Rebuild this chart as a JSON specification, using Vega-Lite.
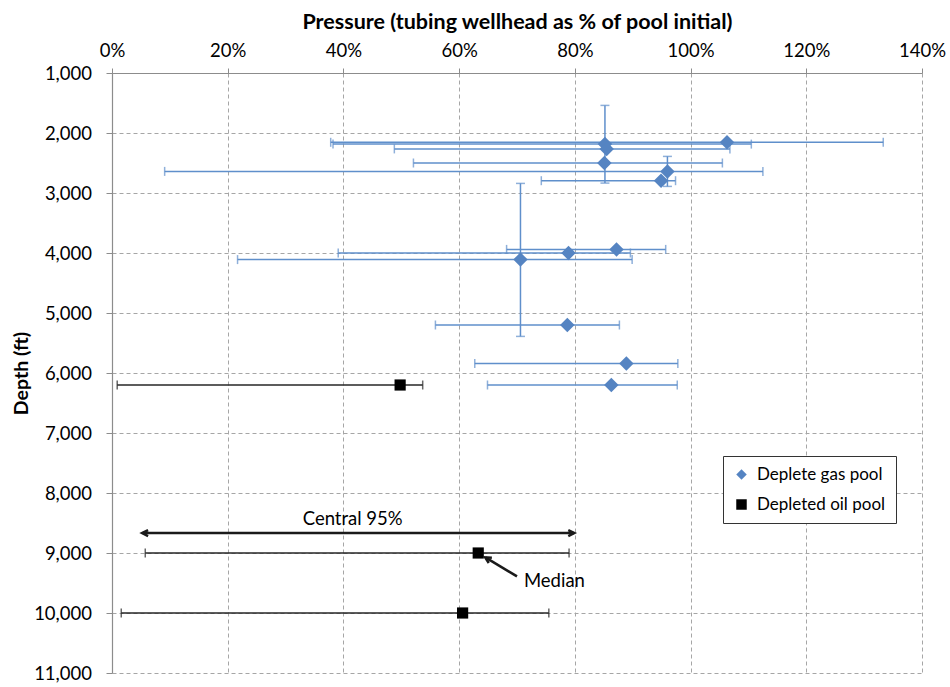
{
  "$schema": "https://vega.github.io/schema/vega-lite/v6.json",
  "width": 810,
  "height": 600,
  "autosize": "none",
  "padding": {"left": 112, "top": 73, "right": 28, "bottom": 14},
  "background": "white",
  "datasets": {
    "pts": [
      {"type": "Deplete gas pool", "pct": 85.2, "depth": 2185, "xlo": 38.2, "xhi": 110.5, "ylo": 1540, "yhi": 2835},
      {"type": "Deplete gas pool", "pct": 106.3, "depth": 2155, "xlo": 37.8, "xhi": 133.3, "ylo": null, "yhi": null},
      {"type": "Deplete gas pool", "pct": 85.5, "depth": 2265, "xlo": 48.8, "xhi": 106.8, "ylo": null, "yhi": null},
      {"type": "Deplete gas pool", "pct": 85.1, "depth": 2500, "xlo": 52.1, "xhi": 105.5, "ylo": null, "yhi": null},
      {"type": "Deplete gas pool", "pct": 96.0, "depth": 2640, "xlo": 9.1, "xhi": 112.5, "ylo": 2390, "yhi": 2890},
      {"type": "Deplete gas pool", "pct": 94.9, "depth": 2795, "xlo": 74.2, "xhi": 97.4, "ylo": null, "yhi": null},
      {"type": "Deplete gas pool", "pct": 87.2, "depth": 3940, "xlo": 68.2, "xhi": 95.7, "ylo": null, "yhi": null},
      {"type": "Deplete gas pool", "pct": 78.9, "depth": 4000, "xlo": 39.1, "xhi": 89.6, "ylo": null, "yhi": null},
      {"type": "Deplete gas pool", "pct": 70.6, "depth": 4110, "xlo": 21.7, "xhi": 89.9, "ylo": 2840, "yhi": 5390},
      {"type": "Deplete gas pool", "pct": 78.7, "depth": 5200, "xlo": 55.9, "xhi": 87.7, "ylo": null, "yhi": null},
      {"type": "Deplete gas pool", "pct": 88.9, "depth": 5840, "xlo": 62.7, "xhi": 97.8, "ylo": null, "yhi": null},
      {"type": "Deplete gas pool", "pct": 86.3, "depth": 6200, "xlo": 64.9, "xhi": 97.7, "ylo": null, "yhi": null},
      {"type": "Depleted oil pool", "pct": 49.8, "depth": 6200, "xlo": 0.9, "xhi": 53.7, "ylo": null, "yhi": null},
      {"type": "Depleted oil pool", "pct": 63.3, "depth": 9000, "xlo": 5.75, "xhi": 79.0, "ylo": null, "yhi": null},
      {"type": "Depleted oil pool", "pct": 60.6, "depth": 10000, "xlo": 1.6, "xhi": 75.5, "ylo": null, "yhi": null}
    ],
    "arrowLines": [
      {"x": 5.3, "x2": 79.8, "y": 8667, "y2": 8667},
      {"x": 64.6, "x2": 70.0, "y": 9078, "y2": 9390}
    ],
    "arrowHeads": [
      {"x": 5.2, "y": 8667, "ang": 180},
      {"x": 79.9, "y": 8667, "ang": 0},
      {"x": 64.5, "y": 9072, "ang": 211}
    ],
    "labelCenter": [
      {"x": 41.6, "y": 8430, "text": "Central 95%"}
    ],
    "labelLeft": [
      {"x": 71.2, "y": 9460, "text": "Median"}
    ]
  },
  "data": {"name": "pts"},
  "encoding": {
    "x": {
      "type": "quantitative",
      "scale": {"domain": [0, 140], "nice": false, "zero": false},
      "axis": {
        "orient": "top",
        "values": [0, 20, 40, 60, 80, 100, 120, 140],
        "labelExpr": "datum.value + '%'",
        "title": "Pressure (tubing wellhead as % of pool initial)"
      }
    },
    "y": {
      "type": "quantitative",
      "scale": {"domain": [1000, 11000], "reverse": true, "nice": false, "zero": false},
      "axis": {
        "values": [1000, 2000, 3000, 4000, 5000, 6000, 7000, 8000, 9000, 10000, 11000],
        "labelExpr": "format(datum.value, ',.0f')",
        "title": "Depth (ft)"
      }
    }
  },
  "layer": [
    {
      "mark": {"type": "rule", "strokeWidth": 1.5},
      "encoding": {
        "x": {"field": "xlo", "type": "quantitative"},
        "x2": {"field": "xhi"},
        "y": {"field": "depth", "type": "quantitative"},
        "color": {"condition": {"test": "datum.type === 'Depleted oil pool'", "value": "#262626"}, "value": "#5F8FCB"}
      }
    },
    {
      "transform": [{"fold": ["xlo", "xhi"], "as": ["end", "xv"]}],
      "mark": {"type": "tick", "orient": "vertical", "size": 9, "thickness": 1.5},
      "encoding": {
        "x": {"field": "xv", "type": "quantitative"},
        "y": {"field": "depth", "type": "quantitative"},
        "color": {"condition": {"test": "datum.type === 'Depleted oil pool'", "value": "#262626"}, "value": "#5F8FCB"}
      }
    },
    {
      "transform": [{"filter": "isValid(datum.ylo)"}],
      "mark": {"type": "rule", "strokeWidth": 1.5, "color": "#5F8FCB"},
      "encoding": {
        "x": {"field": "pct", "type": "quantitative"},
        "y": {"field": "ylo", "type": "quantitative"},
        "y2": {"field": "yhi"}
      }
    },
    {
      "transform": [{"filter": "isValid(datum.ylo)"}, {"fold": ["ylo", "yhi"], "as": ["end", "yv"]}],
      "mark": {"type": "tick", "orient": "horizontal", "size": 9, "thickness": 1.5, "color": "#5F8FCB"},
      "encoding": {
        "x": {"field": "pct", "type": "quantitative"},
        "y": {"field": "yv", "type": "quantitative"}
      }
    },
    {
      "mark": {"type": "point", "filled": true, "opacity": 1},
      "encoding": {
        "x": {"field": "pct", "type": "quantitative"},
        "y": {"field": "depth", "type": "quantitative"},
        "color": {
          "field": "type",
          "type": "nominal",
          "scale": {"domain": ["Deplete gas pool", "Depleted oil pool"], "range": ["#5584C2", "#000000"]},
          "legend": {
            "orient": "none",
            "legendX": 611,
            "legendY": 383,
            "title": null,
            "strokeColor": "#333333",
            "fillColor": "white",
            "padding": 10,
            "labelFontSize": 17,
            "labelColor": "#000000",
            "symbolSize": 110,
            "rowPadding": 12,
            "labelOffset": 7
          }
        },
        "shape": {
          "field": "type",
          "type": "nominal",
          "scale": {"domain": ["Deplete gas pool", "Depleted oil pool"], "range": ["diamond", "square"]}
        },
        "size": {"condition": {"test": "datum.type === 'Depleted oil pool'", "value": 125}, "value": 210}
      }
    },
    {
      "data": {"name": "arrowLines"},
      "mark": {"type": "rule", "strokeWidth": 2.5, "color": "#1a1a1a"},
      "encoding": {
        "x": {"field": "x", "type": "quantitative"},
        "x2": {"field": "x2"},
        "y": {"field": "y", "type": "quantitative"},
        "y2": {"field": "y2"}
      }
    },
    {
      "data": {"name": "arrowHeads"},
      "mark": {"type": "point", "filled": false, "shape": "M-2,-1L0,0L-2,1", "size": 36, "strokeWidth": 2.5, "color": "#1a1a1a", "opacity": 1, "strokeJoin": "miter"},
      "encoding": {
        "x": {"field": "x", "type": "quantitative"},
        "y": {"field": "y", "type": "quantitative"},
        "angle": {"field": "ang", "type": "quantitative", "scale": null}
      }
    },
    {
      "data": {"name": "labelCenter"},
      "mark": {"type": "text", "fontSize": 18.5, "color": "#000000", "baseline": "middle", "align": "center"},
      "encoding": {
        "x": {"field": "x", "type": "quantitative"},
        "y": {"field": "y", "type": "quantitative"},
        "text": {"field": "text"}
      }
    },
    {
      "data": {"name": "labelLeft"},
      "mark": {"type": "text", "fontSize": 18.5, "color": "#000000", "baseline": "middle", "align": "left"},
      "encoding": {
        "x": {"field": "x", "type": "quantitative"},
        "y": {"field": "y", "type": "quantitative"},
        "text": {"field": "text"}
      }
    }
  ],
  "config": {
    "font": "Lato",
    "view": {"stroke": null},
    "axis": {
      "domainColor": "#8c8c8c",
      "domainWidth": 1.2,
      "tickColor": "#8c8c8c",
      "gridColor": "#a6a6a6",
      "gridDash": [4, 3],
      "gridWidth": 1,
      "labelFontSize": 18.5,
      "labelColor": "#000000",
      "labelFlush": false,
      "labelOverlap": false,
      "titleFontWeight": "bold",
      "titleColor": "#000000",
      "grid": true
    },
    "axisX": {"tickSize": 5, "labelPadding": 8, "titlePadding": 8, "titleFontSize": 21.5},
    "axisY": {"tickSize": 6, "labelPadding": 14.5, "titlePadding": 2, "titleFontSize": 19.5}
  }
}
